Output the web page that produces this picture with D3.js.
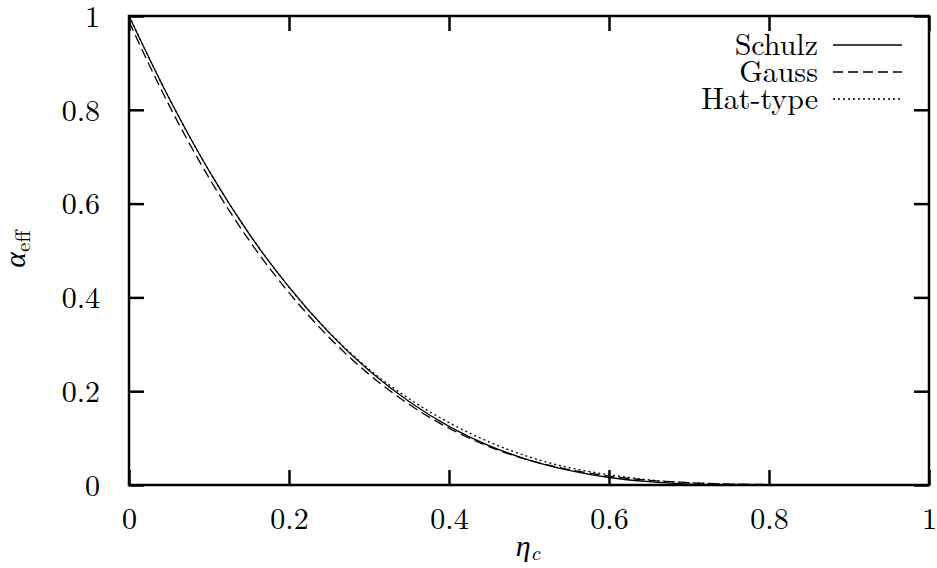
<!DOCTYPE html>
<html>
<head>
<meta charset="utf-8">
<script src="https://cdn.jsdelivr.net/npm/d3@7"></script>
<style>
  body { margin: 0; background: #fff; }
</style>
</head>
<body>
<svg id="chart" width="937" height="568"></svg>
<script>
// values
const eta = [0, 0.05, 0.1, 0.15, 0.2, 0.25, 0.3, 0.35, 0.4, 0.45, 0.5, 0.55, 0.6, 0.65, 0.7, 0.75, 0.8];
const schulz = [1, 0.825, 0.670, 0.536, 0.422, 0.325, 0.244, 0.178, 0.125, 0.084, 0.053, 0.031, 0.016, 0.007, 0.002, 0.0003, 0];
const gauss = [0.988, 0.81, 0.655, 0.522, 0.41, 0.315, 0.236, 0.172, 0.121, 0.082, 0.053, 0.033, 0.019, 0.010, 0.005, 0.002, 0.001];
const hatType = [1, 0.825, 0.670, 0.536, 0.422, 0.326, 0.247, 0.184, 0.133, 0.092, 0.060, 0.037, 0.022, 0.011, 0.005, 0.002, 0.0005];
const xTicks = [0, 0.2, 0.4, 0.6, 0.8, 1];
const yTicks = [0, 0.2, 0.4, 0.6, 0.8, 1];
const seriesNames = ['Schulz', 'Gauss', 'Hat-type'];

const FONT = 'Latin Modern Roman';

const margin = { left: 129, right: 8, top: 16, bottom: 83 };
const width = 937 - margin.left - margin.right;
const height = 568 - margin.top - margin.bottom;

const svg = d3.select('#chart');
const g = svg.append('g')
  .attr('transform', 'translate(' + margin.left + ',' + margin.top + ')');

const x = d3.scaleLinear().domain([0, 1]).range([0, width]);
const y = d3.scaleLinear().domain([0, 1]).range([height, 0]);

const fmt = d => d === 0 || d === 1 ? String(d) : d3.format('.1f')(d);

// bottom + left axes with labels, ticks pointing inward
const xAxis = g.append('g')
  .attr('transform', 'translate(0,' + height + ')')
  .call(d3.axisBottom(x).tickValues(xTicks).tickFormat(fmt).tickSize(-15).tickPadding(30));
const yAxis = g.append('g')
  .call(d3.axisLeft(y).tickValues(yTicks).tickFormat(fmt).tickSize(-15).tickPadding(29));
// mirrored ticks on top + right
const xTop = g.append('g')
  .call(d3.axisTop(x).tickValues(xTicks).tickFormat('').tickSize(-15));
const yRight = g.append('g')
  .attr('transform', 'translate(' + width + ',0)')
  .call(d3.axisRight(y).tickValues(yTicks).tickFormat('').tickSize(-15));

[xAxis, yAxis, xTop, yRight].forEach(a => {
  a.attr('font-family', FONT).attr('font-size', 30);
  a.select('.domain').remove();
  a.selectAll('line').attr('stroke', '#000').attr('stroke-width', 2.5);
  a.selectAll('text').attr('fill', '#000');
});
xAxis.selectAll('text').attr('dy', '0.45em');
yAxis.selectAll('text').attr('dy', '0.34em');

// frame
g.append('rect')
  .attr('width', width).attr('height', height)
  .attr('fill', 'none').attr('stroke', '#000').attr('stroke-width', 2.5);

// curves
const styles = [
  { data: schulz, dash: null },
  { data: gauss, dash: '10,5' },
  { data: hatType, dash: '2,3' }
];
const line = d3.line()
  .x(d => x(d[0]))
  .y(d => y(d[1]))
  .curve(d3.curveMonotoneX);

styles.forEach(s => {
  g.append('path')
    .datum(eta.map((e, i) => [e, s.data[i]]))
    .attr('d', line)
    .attr('fill', 'none')
    .attr('stroke', '#000')
    .attr('stroke-width', 1.3)
    .attr('stroke-dasharray', s.dash);
});

// legend
const legend = g.append('g')
  .attr('transform', 'translate(' + (818 - margin.left) + ',' + (45 - margin.top) + ')')
  .attr('font-family', FONT)
  .attr('font-size', 30);
seriesNames.forEach((name, i) => {
  const row = legend.append('g').attr('transform', 'translate(0,' + (i * 27) + ')');
  row.append('text')
    .attr('text-anchor', 'end')
    .attr('dy', '0.32em')
    .text(name);
  row.append('line')
    .attr('x1', 15).attr('x2', 84)
    .attr('stroke', '#000')
    .attr('stroke-width', 1.3)
    .attr('stroke-dasharray', styles[i].dash);
});

// axis titles
const xt = svg.append('text')
  .attr('x', 528).attr('y', 556)
  .attr('text-anchor', 'middle')
  .attr('font-family', FONT)
  .attr('font-size', 30);
xt.append('tspan').style('font-style', 'italic').text('η');
xt.append('tspan').style('font-style', 'italic').attr('font-size', 21).attr('dy', 4).text('c');

const yt = svg.append('text')
  .attr('transform', 'translate(25,249) rotate(-90)')
  .attr('text-anchor', 'middle')
  .attr('font-family', FONT)
  .attr('font-size', 30);
yt.append('tspan').style('font-style', 'italic').text('α');
yt.append('tspan').attr('font-size', 21).attr('dy', 5).text('eff');
</script>
</body>
</html>
